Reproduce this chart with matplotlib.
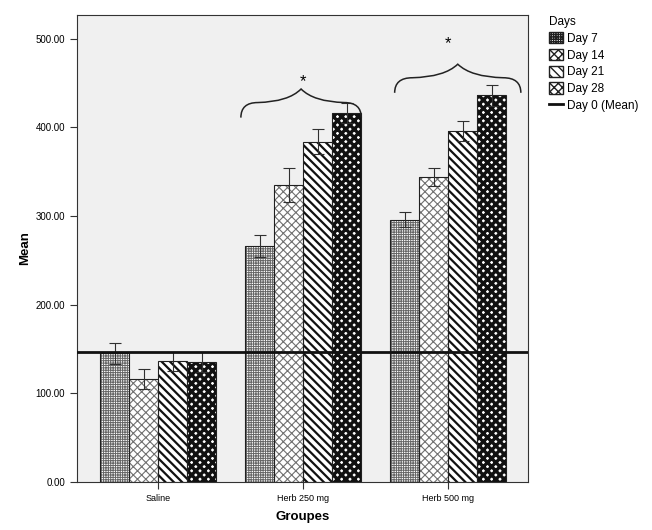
import numpy as np
import matplotlib.pyplot as plt
from matplotlib.path import Path
from matplotlib.patches import PathPatch, Patch
from matplotlib.lines import Line2D

plt.rcParams['font.family'] = ['Liberation Sans', 'DejaVu Sans']

groups = ['Saline', 'Herb 250 mg', 'Herb 500 mg']
days = ['Day 7', 'Day 14', 'Day 21', 'Day 28']
means = {
    'Day 7': [145, 266, 296],
    'Day 14': [116, 335, 344],
    'Day 21': [136, 384, 396],
    'Day 28': [135, 416, 436],
}
errs = {
    'Day 7': [12, 12, 8],
    'Day 14': [11, 19, 10],
    'Day 21': [11, 14, 11],
    'Day 28': [11, 11, 12],
}
day0_mean = 146

# significance braces: group, left/right offset, base height, star height
signif_groups = [1, 2]
brace_left = [-0.43, -0.37]
brace_right = [0.40, 0.50]
brace_base = [411, 439]
star_y = [452, 494]

hatches = ['+++++++', 'xxxx', '\\\\\\\\', 'XXXX']
hatch_lw = [0.7, 0.8, 1.6, 2.4]
hatch_col = ['#666666', '#707070', '#111111', '#111111']

fig = plt.figure(figsize=(6.52, 5.30), dpi=100)
ax = fig.add_axes([0.118, 0.091, 0.692, 0.881])
ax.set_facecolor('#f0f0f0')

x = np.arange(len(groups))
w = 0.2
for i, d in enumerate(days):
    plt.rcParams['hatch.linewidth'] = hatch_lw[i]
    pos = x + (i - 1.5) * w
    # hatch layer, then outline on top
    ax.bar(pos, means[d], w, color='white', edgecolor=hatch_col[i], linewidth=0,
           hatch=hatches[i], zorder=2)
    ax.bar(pos, means[d], w, fill=False, edgecolor='#202020', linewidth=0.8,
           zorder=2.5)
    ax.errorbar(pos, means[d], yerr=errs[d], fmt='none', ecolor='#303030',
                elinewidth=0.8, capsize=4, capthick=0.8, zorder=3)
plt.rcParams['hatch.linewidth'] = 1.0

ax.axhline(day0_mean, color='#111111', linewidth=2, zorder=4)


def brace(ax, x0, x1, y, h):
    # curly brace opening downward, tip at the middle pointing up
    xm = (x0 + x1) / 2
    q = (x1 - x0) * 0.07
    verts = [
        (x0, y), (x0, y + h), (x0 + 2 * q, y + h),
        (xm - 1.5 * q, y + h * 1.05), (xm, y + h * 1.9),
        (xm + 1.5 * q, y + h * 1.05), (x1 - 2 * q, y + h),
        (x1, y + h), (x1, y),
    ]
    codes = [Path.MOVETO, Path.CURVE3, Path.CURVE3,
             Path.CURVE3, Path.CURVE3,
             Path.CURVE3, Path.CURVE3,
             Path.CURVE3, Path.CURVE3]
    ax.add_patch(PathPatch(Path(verts, codes), fill=False, edgecolor='#222222',
                           linewidth=1.1, zorder=5))


for k, g in enumerate(signif_groups):
    brace(ax, g + brace_left[k], g + brace_right[k], brace_base[k], 17)
    ax.text(g, star_y[k], '*', ha='center', va='center', fontsize=12)

ax.set_xlim(-0.56, 2.55)
ax.set_ylim(0, 527)
ax.set_xticks(x)
ax.set_xticklabels(groups, fontsize=6.5)
ax.set_yticks(np.arange(0, 501, 100))
ax.set_yticklabels(['%.2f' % v for v in np.arange(0, 501, 100)], fontsize=7)
ax.tick_params(axis='both', direction='out', length=5, width=0.8, color='#333333')
ax.set_xlabel('Groupes', fontsize=9.5, fontweight='bold', labelpad=6)
ax.set_ylabel('Mean', fontsize=9.5, fontweight='bold', labelpad=3)
for s in ax.spines.values():
    s.set_linewidth(0.8)
    s.set_color('#333333')

handles = []
for i, d in enumerate(days):
    handles.append(Patch(facecolor='white', edgecolor='#202020', hatch=hatches[i],
                         label=d))
handles.append(Line2D([0], [0], color='#111111', linewidth=2, label='Day 0 (Mean)'))
leg = fig.legend(handles=handles, loc='upper left', bbox_to_anchor=(0.825, 0.99),
                 frameon=False, title='Days', fontsize=8.5, title_fontsize=8.5,
                 handlelength=1.2, handleheight=1.1, handletextpad=0.4,
                 labelspacing=0.35, alignment='left')

fig.savefig('out.png', dpi=100)
